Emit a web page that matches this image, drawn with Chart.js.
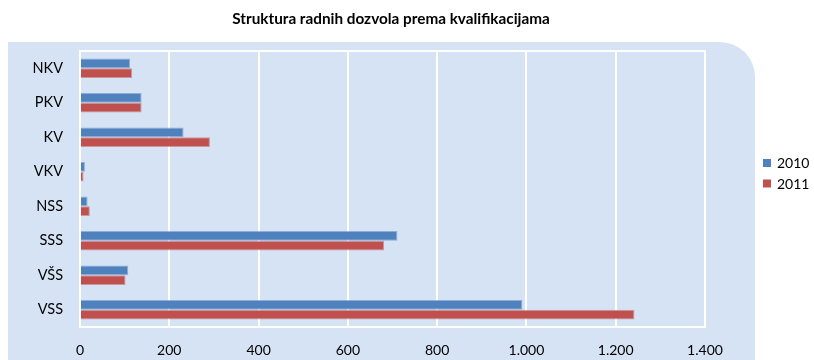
<!DOCTYPE html>
<html>
<head>
<meta charset="utf-8">
<script src="https://cdn.jsdelivr.net/npm/chart.js@4/dist/chart.umd.min.js"></script>
<style>
  html, body { margin: 0; padding: 0; background: #ffffff; }
  #wrap { width: 814px; height: 360px; position: relative; }
</style>
</head>
<body>
<div id="wrap"><canvas id="chart" width="814" height="360"></canvas></div>
<script>
// Work permits by qualification level
const categories = ['NKV', 'PKV', 'KV', 'VKV', 'NSS', 'SSS', 'VŠS', 'VSS'];
const values2010 = [112, 138, 232, 11, 17, 711, 108, 991];
const values2011 = [117, 138, 291, 8, 22, 681, 102, 1242];
const seriesLabels = ['2010', '2011'];
const xTicks = [0, 200, 400, 600, 800, 1000, 1200, 1400];
const titleText = 'Struktura radnih dozvola prema kvalifikacijama';

const FONT = 'Lato, "Open Sans", sans-serif';
const BLUE = '#4F81BD';
const RED = '#C0504D';
const PANEL = '#D6E3F4';

function fmtThousands(v) {
  return String(v).replace(/\B(?=(\d{3})+(?!\d))/g, '.');
}

// Light blue panel with rounded top-right corner, plus title and plot border
const decor = {
  id: 'decor',
  beforeDraw(chart) {
    const ctx = chart.ctx;
    const x0 = 8, y0 = 42, x1 = 755, y1 = 362, r = 35;
    ctx.save();
    ctx.fillStyle = PANEL;
    ctx.beginPath();
    ctx.moveTo(x0, y0);
    ctx.lineTo(x1 - r, y0);
    ctx.arcTo(x1, y0, x1, y0 + r, r);
    ctx.lineTo(x1, y1);
    ctx.lineTo(x0, y1);
    ctx.closePath();
    ctx.fill();

    ctx.fillStyle = '#000';
    ctx.font = 'bold 15.3px ' + FONT;
    ctx.textAlign = 'center';
    ctx.textBaseline = 'middle';
    ctx.fillText(titleText, 391, 19);
    ctx.restore();
  },
  afterDatasetsDraw(chart) {
    const a = chart.chartArea;
    const ctx = chart.ctx;
    ctx.save();
    ctx.strokeStyle = '#ffffff';
    ctx.lineWidth = 2;
    ctx.strokeRect(a.left, a.top, a.right - a.left, a.bottom - a.top);
    ctx.restore();
  },
  afterDraw(chart) {
    const ctx = chart.ctx;
    ctx.save();
    ctx.font = '14px ' + FONT;
    ctx.textBaseline = 'middle';
    ctx.textAlign = 'left';
    chart.data.datasets.forEach((ds, i) => {
      const y = 163 + i * 20.5;
      ctx.fillStyle = ds.backgroundColor;
      ctx.fillRect(763, y - 4, 8, 8);
      ctx.fillStyle = '#000';
      ctx.fillText(ds.label, 777, y + 0.5);
    });
    ctx.restore();
  }
};

new Chart(document.getElementById('chart'), {
  type: 'bar',
  data: {
    labels: categories,
    datasets: [
      { label: seriesLabels[0], data: values2010, backgroundColor: BLUE,
        borderColor: 'rgba(110,150,205,0.7)', borderWidth: 1 },
      { label: seriesLabels[1], data: values2011, backgroundColor: RED,
        borderColor: 'rgba(200,115,115,0.7)', borderWidth: 1 }
    ]
  },
  options: {
    indexAxis: 'y',
    responsive: false,
    animation: false,
    devicePixelRatio: 1,
    layout: { padding: { left: 0, top: 51, right: 109, bottom: 0 } },
    datasets: { bar: { categoryPercentage: 0.56, barPercentage: 1.0 } },
    plugins: {
      legend: { display: false },
      title: { display: false },
      tooltip: { enabled: false }
    },
    scales: {
      x: {
        min: 0,
        max: 1400,
        afterBuildTicks(axis) { axis.ticks = xTicks.map(v => ({ value: v })); },
        afterFit(axis) { axis.height = 33; },
        grid: { color: '#ffffff', lineWidth: 2, drawTicks: false },
        border: { display: false },
        ticks: {
          padding: 15,
          color: '#000',
          font: { family: FONT, size: 14 },
          callback: v => fmtThousands(v)
        }
      },
      y: {
        afterFit(axis) { axis.width = 80; },
        grid: { display: false, drawTicks: false },
        border: { display: false },
        ticks: {
          padding: 17,
          color: '#000',
          font: { family: FONT, size: 14.5 }
        }
      }
    }
  },
  plugins: [decor]
});
</script>
</body>
</html>
